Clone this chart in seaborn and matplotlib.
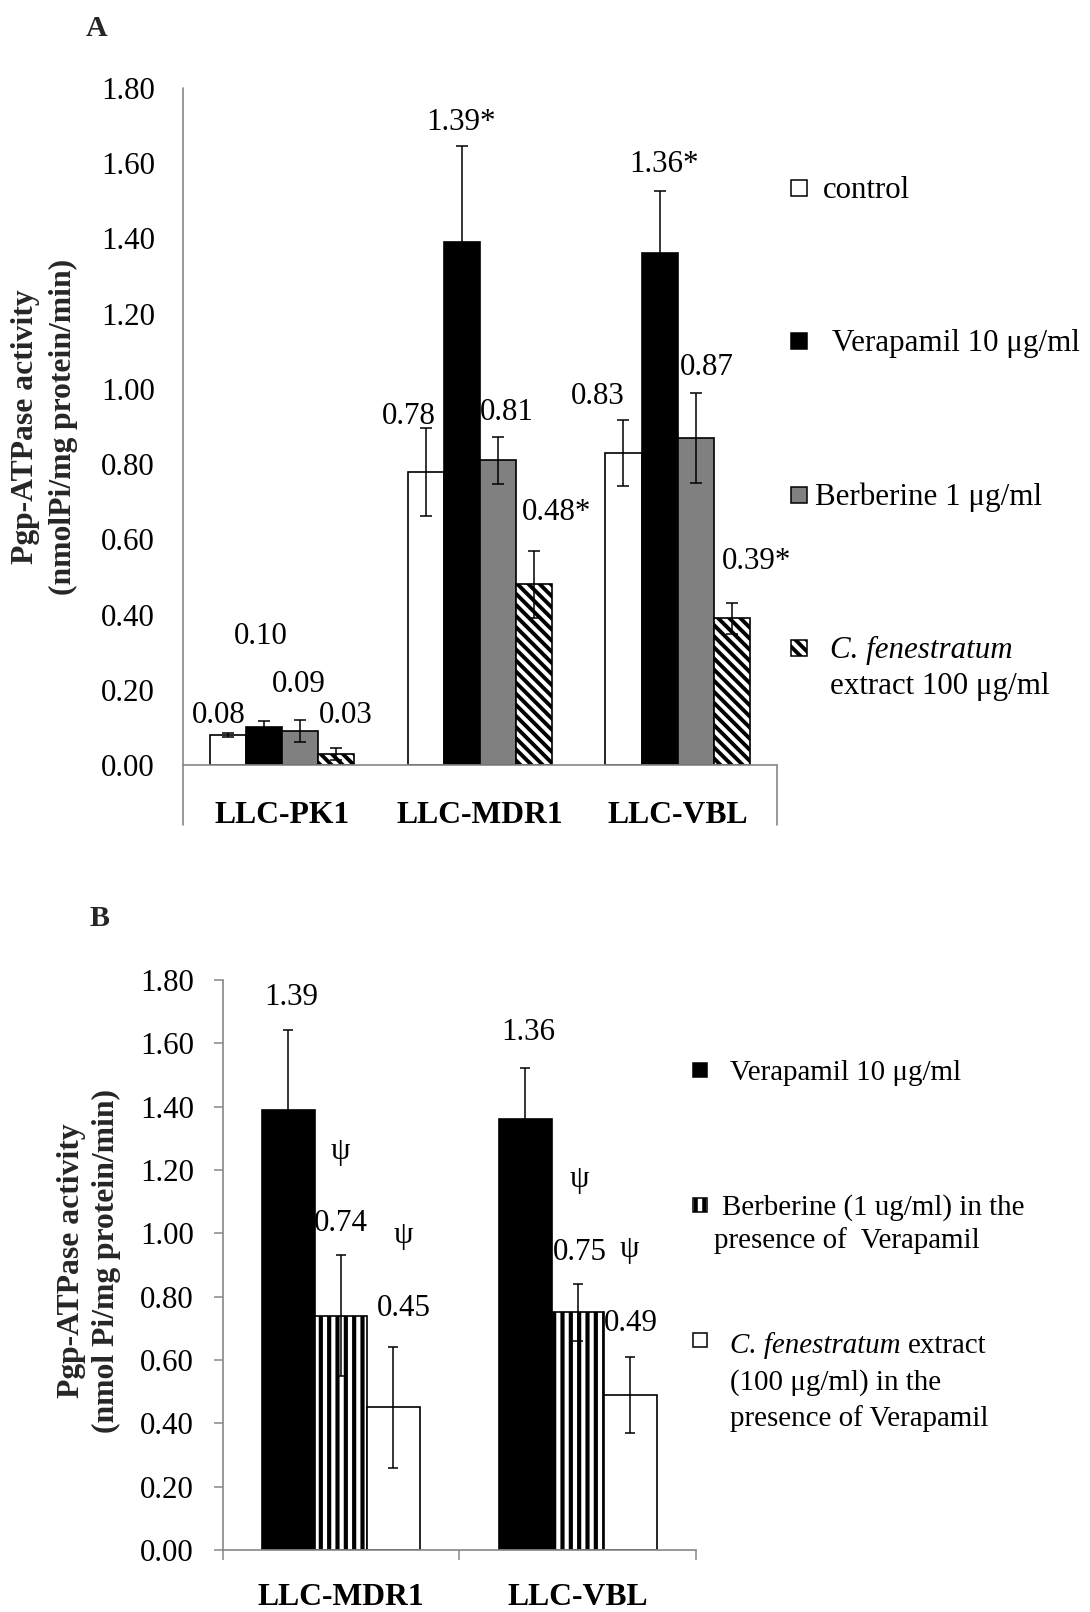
import numpy as np
import pandas as pd
import matplotlib
matplotlib.use("Agg")
import matplotlib.pyplot as plt
from matplotlib.patches import Rectangle
from matplotlib.container import BarContainer
from matplotlib.ticker import FormatStrFormatter
import seaborn as sns

# ---------------- data: panel A ----------------
cells_a = ["LLC-PK1", "LLC-MDR1", "LLC-VBL"]
treatments_a = ["control", "Verapamil 10 μg/ml", "Berberine 1 μg/ml",
                "C. fenestratum extract 100 μg/ml"]
control_a = [0.08, 0.78, 0.83]
verapamil_a = [0.10, 1.39, 1.36]
berberine_a = [0.09, 0.81, 0.87]
cfen_a = [0.03, 0.48, 0.39]
control_err_a = [0.006, 0.117, 0.088]
verapamil_err_a = [0.016, 0.256, 0.165]
berberine_err_a = [0.030, 0.062, 0.120]
cfen_err_a = [0.016, 0.090, 0.042]
control_lbl_a = ["0.08", "0.78", "0.83"]
verapamil_lbl_a = ["0.10", "1.39*", "1.36*"]
berberine_lbl_a = ["0.09", "0.81", "0.87"]
cfen_lbl_a = ["0.03", "0.48*", "0.39*"]

# ---------------- data: panel B ----------------
cells_b = ["LLC-MDR1", "LLC-VBL"]
treatments_b = ["Verapamil 10 μg/ml",
                "Berberine (1 ug/ml) in the presence of Verapamil",
                "C. fenestratum extract (100 μg/ml) in the presence of Verapamil"]
verapamil_b = [1.39, 1.36]
berberine_b = [0.74, 0.75]
cfen_b = [0.45, 0.49]
verapamil_err_b = [0.25, 0.16]
berberine_err_b = [0.19, 0.09]
cfen_err_b = [0.19, 0.12]
verapamil_lbl_b = ["1.39", "1.36"]
berberine_lbl_b = ["0.74", "0.75"]
cfen_lbl_b = ["0.45", "0.49"]
sig_b = ["", "ψ", "ψ"]

ytick_vals = [0.00, 0.20, 0.40, 0.60, 0.80, 1.00, 1.20, 1.40, 1.60, 1.80]

# ---------------- styling / layout (pixels) ----------------
W, H, DPI = 1090, 1612, 100
PT = 72.0 / DPI
GRAY = "#878787"
FS = 31 * PT
FS_LAB = 31.7 * PT
FS_LEG_B = 29 * PT
FS_PANEL = 30 * PT
BASE = 0.338 * 31  # digit centre -> baseline (px)

DIAG = "\\" * 3
colors_a = ["white", "black", "#808080", "white"]
hatches_a = ["", "", "", DIAG]
colors_b = ["black", "white", "white"]
hatches_b = ["", "||", ""]

# label offsets (px) from bar-top centre to label centre
lbl_off_a = [
    [(-8.8, -21.9), (-16.5, -58.6), (-25.5, -59.8)],
    [(-2.9, -93.4), (-0.6, -122.2), (4.4, -91.8)],
    [(-1.8, -49.5), (8.7, -50.4), (10.9, -72.8)],
    [(9.6, -40.7), (22.1, -74.5), (25.1, -59.3)],
]
lbl_off_b = [
    [(2.7, -114.8), (3.3, -89.3)],
    [(0.0, -95.0), (2.0, -62.5)],
    [(10.0, -101.5), (0.0, -73.8)],
]
sig_off_b = [
    [(0, 0), (0, 0)],
    [(-1.0, -163.6), (1.0, -133.0)],
    [(10.0, -171.5), (-1.4, -144.8)],
]

sns.set_theme(style="white")
plt.rcParams["font.family"] = ["Liberation Serif", "DejaVu Serif"]
plt.rcParams["hatch.color"] = "black"
plt.rcParams["hatch.linewidth"] = 2.8
plt.rcParams["axes.linewidth"] = 1.2

fig = plt.figure(figsize=(W / DPI, H / DPI), dpi=DPI)
fig.patch.set_facecolor("white")


def fxy(x, y):
    return x / W, 1 - y / H


def bar_containers(ax):
    return [c for c in ax.containers if isinstance(c, BarContainer)]


# ======================= Panel A =======================
axA = fig.add_axes([183.3 / W, 1 - 765 / H, 593.2 / W, 677 / H])
dfA = pd.DataFrame({
    "cell": [c for t in treatments_a for c in cells_a],
    "treatment": [t for t in treatments_a for c in cells_a],
    "value": control_a + verapamil_a + berberine_a + cfen_a,
})
sns.barplot(data=dfA, x="cell", y="value", hue="treatment", order=cells_a,
            hue_order=treatments_a, palette=dict(zip(treatments_a, colors_a)),
            width=0.7304, gap=0, errorbar=None, saturation=1,
            edgecolor="black", linewidth=1.2, legend=False, ax=axA)

errs_a = [control_err_a, verapamil_err_a, berberine_err_a, cfen_err_a]
lbls_a = [control_lbl_a, verapamil_lbl_a, berberine_lbl_a, cfen_lbl_a]
for h, cont in enumerate(bar_containers(axA)):
    patches = sorted(cont.patches, key=lambda p: p.get_x())
    xs = [p.get_x() + p.get_width() / 2 for p in patches]
    tops = [p.get_height() for p in patches]
    for p in patches:
        if hatches_a[h]:
            p.set_hatch(hatches_a[h])
            if hasattr(p, "set_hatch_linewidth"):
                p.set_hatch_linewidth(2.8)
    axA.errorbar(xs, tops, yerr=errs_a[h], fmt="none", ecolor="black",
                 elinewidth=1.1, capsize=4.4, capthick=1.1, zorder=3)
    for i, (x, t) in enumerate(zip(xs, tops)):
        dx, dy = lbl_off_a[h][i]
        axA.annotate(lbls_a[h][i], xy=(x, t), xytext=(dx * PT, -(dy + BASE) * PT),
                     textcoords="offset points", ha="center", va="baseline",
                     fontsize=FS, color="black")

axA.set_xlim(-0.5, 2.5)
axA.set_ylim(0, 1.8)
axA.set_yticks(ytick_vals)
axA.yaxis.set_major_formatter(FormatStrFormatter("%.2f"))
axA.tick_params(axis="y", length=0, pad=20.4, labelsize=FS, colors="black")
axA.tick_params(axis="x", length=0, pad=26.0, labelsize=FS_LAB, colors="black")
for lab in axA.get_xticklabels():
    lab.set_fontweight("bold")
axA.set_xlabel("")
for s in ["top", "right", "left"]:
    axA.spines[s].set_visible(False)
axA.spines["bottom"].set_color(GRAY)
ext = 60 / 677
axA.plot([0, 0], [-ext, 1], transform=axA.transAxes, color=GRAY, lw=1.2, clip_on=False)
axA.plot([1, 1], [-ext, 0], transform=axA.transAxes, color=GRAY, lw=1.2, clip_on=False)
axA.set_xlim(-0.5, 2.5)
axA.set_ylim(0, 1.8)

axA.set_ylabel("Pgp-ATPase activity\n(nmolPi/mg protein/min)", fontsize=FS_LAB,
               fontweight="bold", linespacing=1.38)
axA.yaxis.set_label_coords((44.5 - 183.3) / 593.2, (765 - 426.7) / 677)
axA.yaxis.label.set_va("center")
axA.yaxis.label.set_rotation_mode("default")

# ======================= Panel B =======================
axB = fig.add_axes([222.5 / W, 1 - 1550 / H, 473.9 / W, 570.2 / H])
dfB = pd.DataFrame({
    "cell": [c for t in treatments_b for c in cells_b],
    "treatment": [t for t in treatments_b for c in cells_b],
    "value": verapamil_b + berberine_b + cfen_b,
})
sns.barplot(data=dfB, x="cell", y="value", hue="treatment", order=cells_b,
            hue_order=treatments_b, palette=dict(zip(treatments_b, colors_b)),
            width=0.6646, gap=0, errorbar=None, saturation=1,
            edgecolor="black", linewidth=1.2, legend=False, ax=axB)

errs_b = [verapamil_err_b, berberine_err_b, cfen_err_b]
lbls_b = [verapamil_lbl_b, berberine_lbl_b, cfen_lbl_b]
for h, cont in enumerate(bar_containers(axB)):
    patches = sorted(cont.patches, key=lambda p: p.get_x())
    xs = [p.get_x() + p.get_width() / 2 for p in patches]
    tops = [p.get_height() for p in patches]
    for p in patches:
        if hatches_b[h]:
            p.set_hatch(hatches_b[h])
            if hasattr(p, "set_hatch_linewidth"):
                p.set_hatch_linewidth(3.0)
    axB.errorbar(xs, tops, yerr=errs_b[h], fmt="none", ecolor="black",
                 elinewidth=1.1, capsize=3.6, capthick=1.1, zorder=3)
    for i, (x, t) in enumerate(zip(xs, tops)):
        dx, dy = lbl_off_b[h][i]
        axB.annotate(lbls_b[h][i], xy=(x, t), xytext=(dx * PT, -(dy + BASE) * PT),
                     textcoords="offset points", ha="center", va="baseline",
                     fontsize=FS, color="black")
        if sig_b[h]:
            sx, sy = sig_off_b[h][i]
            axB.annotate(sig_b[h], xy=(x, t), xytext=(sx * PT, -sy * PT),
                         textcoords="offset points", ha="center", va="center",
                         fontsize=FS, color="black")

axB.set_xlim(-0.5, 1.5)
axB.set_ylim(0, 1.8)
axB.set_yticks(ytick_vals)
axB.yaxis.set_major_formatter(FormatStrFormatter("%.2f"))
axB.tick_params(axis="y", direction="out", length=6.5, width=1.1, color=GRAY,
                pad=14, labelsize=FS, labelcolor="black", left=True)
axB.tick_params(axis="x", which="major", length=0, pad=24, labelsize=FS_LAB,
                labelcolor="black")
axB.set_xticks([-0.5, 0.5, 1.5], minor=True)
axB.tick_params(axis="x", which="minor", direction="out", length=7.2, width=1.1,
                color=GRAY, bottom=True)
for lab in axB.get_xticklabels():
    lab.set_fontweight("bold")
axB.set_xlabel("")
for s in ["top", "right"]:
    axB.spines[s].set_visible(False)
for s in ["left", "bottom"]:
    axB.spines[s].set_color(GRAY)

axB.set_ylabel("Pgp-ATPase activity\n(nmol Pi/mg protein/min)", fontsize=FS_LAB,
               fontweight="bold", linespacing=1.30)
axB.yaxis.set_label_coords((88.9 - 222.5) / 473.9, (1550 - 1261) / 570.2)
axB.yaxis.label.set_va("center")
axB.yaxis.label.set_rotation_mode("default")

# ======================= panel letters =======================
fig.text(*fxy(97, 36), "A", ha="center", va="baseline", fontsize=FS_PANEL,
         fontweight="bold")
fig.text(*fxy(99.5, 926), "B", ha="center", va="baseline", fontsize=FS_PANEL,
         fontweight="bold")


# ======================= legends =======================
def marker(cx, cy, size, face, hatch=None):
    x0, y0 = fxy(cx - size / 2, cy + size / 2)
    r = Rectangle((x0, y0), size / W, size / H, transform=fig.transFigure,
                  facecolor=face, edgecolor="black", linewidth=1.1, hatch=hatch)
    fig.add_artist(r)


def ltext(x, y, s, size, style="normal"):
    return fig.text(*fxy(x, y), s, ha="left", va="baseline", fontsize=size,
                    style=style, color="black")


# legend A
leg_a_y = [187.5, 341, 495, 648]
leg_a_x = [823, 832, 815, 830]
for k in range(4):
    marker(799, leg_a_y[k], 16, colors_a[k], hatches_a[k] or None)
ltext(leg_a_x[0], leg_a_y[0] + 10.2, "control", FS)
ltext(leg_a_x[1], leg_a_y[1] + 10.2, "Verapamil 10 μg/ml", FS)
ltext(leg_a_x[2], leg_a_y[2] + 10.2, "Berberine 1 μg/ml", FS)
ltext(leg_a_x[3], leg_a_y[3] + 10.2, "C. fenestratum", FS, style="italic")
ltext(leg_a_x[3], leg_a_y[3] + 46.2, "extract 100 μg/ml", FS)

# legend B
leg_b_y = [1070, 1205, 1340]
for k in range(3):
    marker(700, leg_b_y[k], 14, colors_b[k], hatches_b[k] or None)
ltext(730, 1079.6, "Verapamil 10 μg/ml", FS_LEG_B)
ltext(722, 1214.6, "Berberine (1 ug/ml) in the", FS_LEG_B)
ltext(714, 1247.6, "presence of  Verapamil", FS_LEG_B)
t_it = ltext(730, 1352.6, "C. fenestratum", FS_LEG_B, style="italic")
fig.canvas.draw()
bb = t_it.get_window_extent(renderer=fig.canvas.get_renderer())
ltext(bb.x1 + 7, 1352.6, "extract", FS_LEG_B)
ltext(730, 1389.6, "(100 μg/ml) in the", FS_LEG_B)
ltext(730, 1426.3, "presence of Verapamil", FS_LEG_B)

fig.savefig("out.png", dpi=DPI, facecolor="white")
